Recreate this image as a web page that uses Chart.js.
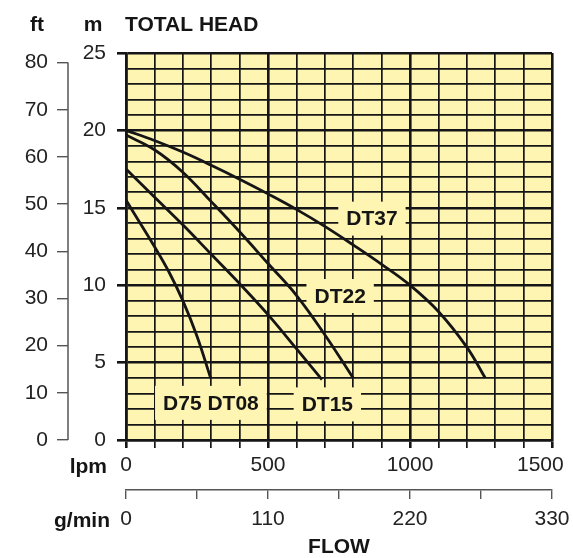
<!DOCTYPE html>
<html>
<head>
<meta charset="utf-8">
<script src="https://cdn.jsdelivr.net/npm/chart.js@4.4.1/dist/chart.umd.min.js"></script>
<style>
  html, body { margin: 0; padding: 0; background: #fff; }
  #wrap { width: 573px; height: 558px; }
</style>
</head>
<body>
<div id="wrap"><canvas id="pumpChart" width="573" height="558"></canvas></div>
<script>
// Pump curves: flow in lpm, head in m
const flowDT37 = [0, 100, 200, 300, 400, 500, 600, 700, 800, 900, 1000, 1100, 1200, 1265];
const headDT37 = [20, 19.35, 18.6, 17.75, 16.85, 15.9, 14.9, 13.8, 12.6, 11.35, 10.0, 8.3, 6.0, 4.0];
const flowDT22 = [0, 100, 200, 300, 400, 500, 600, 700, 800];
const headDT22 = [19.7, 18.75, 17.3, 15.4, 13.45, 11.4, 9.35, 6.8, 4.0];
const flowDT15 = [0, 100, 200, 300, 400, 500, 600, 690];
const headDT15 = [17.5, 15.7, 13.9, 12.0, 10.1, 8.1, 5.9, 3.9];
const flowD75 = [0, 50, 100, 150, 200, 250, 298];
const headD75 = [15.5, 14.0, 12.5, 10.9, 9.0, 6.7, 4.0];
const seriesNames = ['DT37', 'DT22', 'DT15', 'D75 DT08'];

// axis labels
const lpmTicks = [0, 500, 1000, 1500];
const headTicks = [0, 5, 10, 15, 20, 25];
const ftTicks = [0, 10, 20, 30, 40, 50, 60, 70, 80];
const gpmTicks = [0, 110, 220, 330];
const lpmMax = 1500, headMax = 25, gpmMax = 330;
const M_TO_FT = 3.28084;

const FONT = '"Liberation Sans", Arial, Helvetica, sans-serif';
const INK = '#151515';
const TICK_SIZE = 21;

function pairs(xs, ys) {
    return xs.map((x, i) => ({ x: x, y: ys[i] }));
}

// where the curve names sit (lpm, m)
const nameSpots = [
    { text: 'DT37', x: 866, y: 14.3 },
    { text: 'DT22', x: 754, y: 9.3 },
    { text: 'DT15', x: 709, y: 2.3 },
    { text: 'D75 DT08', x: 299, y: 2.4 }
];

// yellow plot paper
const paperPlugin = {
    id: 'paper',
    beforeDraw(chart) {
        const a = chart.chartArea;
        const ctx = chart.ctx;
        ctx.save();
        ctx.fillStyle = '#fff5b3';
        ctx.fillRect(a.left, a.top, a.right - a.left, a.bottom - a.top);
        ctx.restore();
    }
};

// curve names on little yellow patches
const namesPlugin = {
    id: 'names',
    beforeDatasetsDraw(chart) {
        const ctx = chart.ctx;
        const sx = chart.scales.x, sy = chart.scales.y;
        ctx.save();
        ctx.font = 'bold 21px ' + FONT;
        ctx.textAlign = 'center';
        ctx.textBaseline = 'middle';
        nameSpots.forEach(n => {
            const px = sx.getPixelForValue(n.x);
            const py = sy.getPixelForValue(n.y);
            const w = ctx.measureText(n.text).width + 16;
            ctx.fillStyle = '#fff5b3';
            ctx.fillRect(px - w / 2, py - 17, w, 34);
            ctx.fillStyle = INK;
            ctx.fillText(n.text, px, py + 1);
        });
        ctx.restore();
    }
};

// header texts, unit names and the ft axis line
const headerPlugin = {
    id: 'header',
    afterDraw(chart) {
        const ctx = chart.ctx;
        const ft = chart.scales.yFt, m = chart.scales.y;
        const lpm = chart.scales.x, gpm = chart.scales.gpm;
        const left = chart.chartArea.left;
        ctx.save();
        ctx.fillStyle = INK;
        ctx.font = 'bold 21px ' + FONT;
        ctx.textBaseline = 'middle';
        ctx.textAlign = 'center';
        ctx.fillText('ft', ft.right - 31, 25);
        ctx.fillText('m', m.right - 33, 25);
        ctx.textAlign = 'left';
        ctx.fillText('TOTAL HEAD', left - 1, 25);

        ctx.textAlign = 'right';
        ctx.fillText('lpm', left - 19, lpm.top + 27);
        ctx.fillText('g/min', left - 16, gpm.top + 31);

        ctx.strokeStyle = '#555';
        ctx.lineWidth = 1.5;
        ctx.beginPath();
        ctx.moveTo(ft.right, ft.getPixelForValue(ftTicks[0]));
        ctx.lineTo(ft.right, ft.getPixelForValue(ftTicks[ftTicks.length - 1]));
        ctx.stroke();
        ctx.restore();
    }
};

function curve(label, xs, ys) {
    return {
        label: label,
        data: pairs(xs, ys),
        borderColor: INK,
        borderWidth: 2.8,
        pointRadius: 0,
        fill: false,
        tension: 0.4
    };
}

const ctx = document.getElementById('pumpChart').getContext('2d');
const chart = new Chart(ctx, {
    type: 'line',
    data: {
        datasets: [
            curve(seriesNames[0], flowDT37, headDT37),
            curve(seriesNames[1], flowDT22, headDT22),
            curve(seriesNames[2], flowDT15, headDT15),
            curve(seriesNames[3], flowD75, headD75)
        ]
    },
    options: {
        responsive: false,
        animation: false,
        devicePixelRatio: 1,
        layout: { padding: { top: 53, right: 21, left: 0, bottom: 0 } },
        plugins: { legend: { display: false }, tooltip: { enabled: false } },
        scales: {
            x: {
                type: 'linear', position: 'bottom', weight: 0,
                min: 0, max: lpmMax,
                ticks: {
                    stepSize: 100, autoSkip: false, maxRotation: 0, padding: 5,
                    color: '#222', font: { family: FONT, size: TICK_SIZE },
                    callback: v => lpmTicks.includes(v) ? (v === lpmMax ? v + '    ' : String(v)) : ''
                },
                grid: {
                    color: INK, tickLength: 8,
                    lineWidth: c => (c.tick && c.tick.value % 500 === 0) ? 2.6 : 1.7
                },
                border: { display: true, color: INK, width: 2.6 },
                afterFit: s => { s.height = 50; s.paddingLeft = 0; s.paddingRight = 0; }
            },
            gpm: {
                type: 'linear', position: 'bottom', weight: 1,
                min: 0, max: gpmMax,
                ticks: {
                    stepSize: 55, autoSkip: false, maxRotation: 0, padding: 8,
                    color: '#222', font: { family: FONT, size: TICK_SIZE },
                    callback: v => gpmTicks.includes(v) ? String(v) : ''
                },
                grid: { drawOnChartArea: false, color: '#555', lineWidth: 1.4, tickLength: 9 },
                border: { display: true, color: '#555', width: 1.4 },
                title: {
                    display: true, text: 'FLOW', color: INK,
                    font: { family: FONT, size: 21, weight: 'bold', lineHeight: 1 },
                    padding: { top: 0, bottom: 0 }
                },
                afterFit: s => { s.height = 68; s.paddingLeft = 0; s.paddingRight = 0; }
            },
            y: {
                type: 'linear', position: 'left', weight: 0,
                min: 0, max: headMax,
                ticks: {
                    stepSize: 1, autoSkip: false, padding: 11,
                    color: '#222', font: { family: FONT, size: TICK_SIZE },
                    callback: v => headTicks.includes(v) ? String(v) : ''
                },
                grid: {
                    color: INK, tickLength: 9,
                    lineWidth: c => (c.tick && c.tick.value % 5 === 0) ? 2.6 : 1.7,
                    tickColor: c => (c.tick && c.tick.value % 5 === 0) ? INK : 'rgba(0,0,0,0)'
                },
                border: { display: true, color: INK, width: 2.6 },
                afterFit: s => { s.width = 58; s.paddingTop = 0; s.paddingBottom = 0; }
            },
            yFt: {
                type: 'linear', position: 'left', weight: 1,
                min: 0, max: headMax * M_TO_FT,
                ticks: {
                    stepSize: 10, includeBounds: false, autoSkip: false, padding: 9,
                    color: '#222', font: { family: FONT, size: TICK_SIZE },
                    callback: v => ftTicks.includes(v) ? String(v) : ''
                },
                grid: { drawOnChartArea: false, color: '#555', lineWidth: 1.4, tickLength: 11 },
                border: { display: false },
                afterFit: s => { s.width = 68; s.paddingTop = 0; s.paddingBottom = 0; }
            }
        }
    },
    plugins: [paperPlugin, namesPlugin, headerPlugin]
});
</script>
</body>
</html>
